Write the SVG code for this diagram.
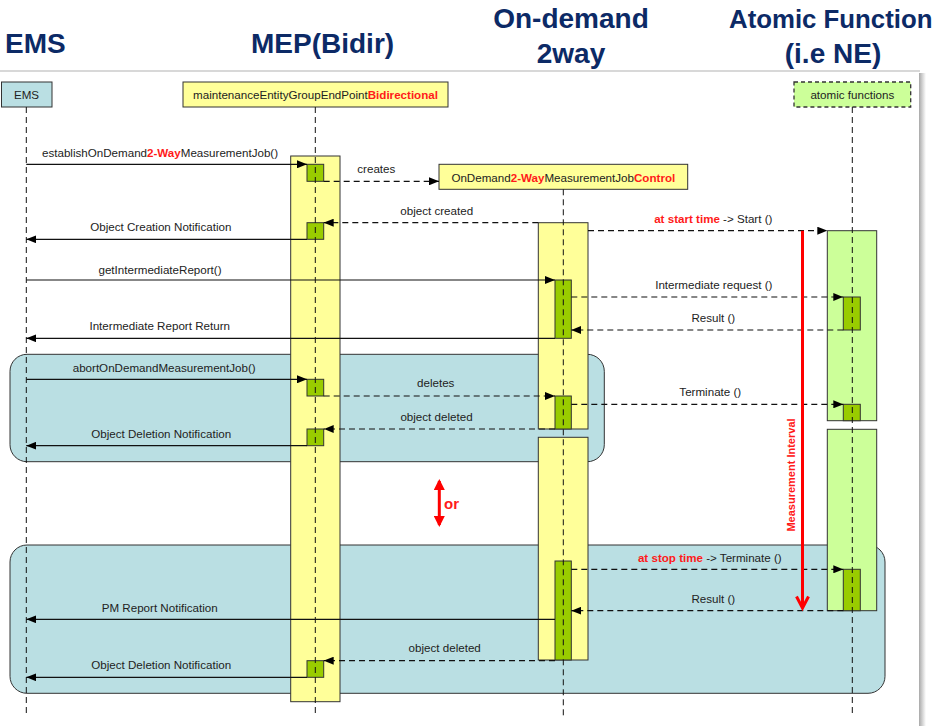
<svg xmlns="http://www.w3.org/2000/svg" width="937" height="726" viewBox="0 0 937 726">
  <style>
    .title { font-family: "Liberation Sans", Arial, sans-serif; font-weight: bold; font-size: 28px; fill: #0c2a66; }
    .lbl { font-family: "Liberation Sans", Arial, sans-serif; font-size: 11.6px; fill: #222; }
    .mid { text-anchor: middle; }
    .red { fill: #ff1a1a; font-weight: bold; }
    .head { stroke: #333; stroke-width: 1; }
    .life { stroke: #111; stroke-width: 1; stroke-dasharray: 6 4; fill: none; }
    .yel { fill: #ffff99; stroke: #333; stroke-width: 1; }
    .grn { fill: #99cc00; stroke: #333; stroke-width: 1; }
    .lgrn { fill: #ccff99; stroke: #333; stroke-width: 1; }
    .frag { fill: #badfe3; stroke: #333; stroke-width: 1; }
    .msg { stroke: #111; stroke-width: 1.2; fill: none; marker-end: url(#arr); }
    .ret { stroke: #111; stroke-width: 1.2; fill: none; stroke-dasharray: 6 4; marker-end: url(#arr); }
  </style>
  <defs>
    <marker id="arr" markerUnits="userSpaceOnUse" markerWidth="10" markerHeight="8" refX="10" refY="4" orient="auto">
      <path d="M0,0 L10,4 L0,8 z" fill="#000"/>
    </marker>
    <marker id="redhead" markerUnits="userSpaceOnUse" markerWidth="11" markerHeight="11" refX="9" refY="5.5" orient="auto-start-reverse">
      <path d="M0,0 L11,5.5 L0,11 z" fill="#ff0000"/>
    </marker>
    <linearGradient id="shade" x1="0" y1="0" x2="1" y2="0">
      <stop offset="0" stop-color="#a8a8a8"/>
      <stop offset="0.5" stop-color="#d4d4d4"/>
      <stop offset="1" stop-color="#ffffff"/>
    </linearGradient>
  </defs>

  <rect x="0" y="0" width="937" height="726" fill="#ffffff"/>

  <!-- column titles -->
  <g id="titles">
    <text class="title" x="5" y="53">EMS</text>
    <text class="title" x="251" y="53">MEP(Bidir)</text>
    <text class="title mid" x="571" y="28">On-demand</text>
    <text class="title mid" x="571" y="63">2way</text>
    <text class="title" x="729" y="28" style="font-size:25.8px">Atomic Function</text>
    <text class="title mid" x="833" y="63">(i.e NE)</text>
  </g>

  <!-- page frame with drop shadow -->
  <g id="frame">
    <line x1="0" y1="71" x2="920" y2="71" stroke="#d8d8d8" stroke-width="2"/>
    <rect x="919" y="73" width="7" height="653" fill="url(#shade)"/>
  </g>

  <!-- combined fragments -->
  <g id="fragments">
    <rect class="frag" x="10" y="354.3" width="594.3" height="107.4" rx="17" ry="17"/>
    <rect class="frag" x="10" y="545" width="875" height="148.3" rx="17" ry="17"/>
  </g>

  <g id="ems">
    <rect class="head" x="1.5" y="82" width="50.5" height="25" fill="#badfe3"/>
    <text class="lbl mid" x="26.5" y="99">EMS</text>
    <line class="life" x1="26.3" y1="107" x2="26.3" y2="717"/>
  </g>

  <g id="mep">
    <rect class="head" x="183" y="82" width="265" height="25" fill="#ffff99"/>
    <text class="lbl mid" x="315.5" y="99">maintenanceEntityGroupEndPoint<tspan class="red">Bidirectional</tspan></text>
    <rect class="yel" x="290.7" y="156" width="49.3" height="545.7"/>
    <rect class="grn" x="307" y="164.3" width="16.7" height="17"/>
    <rect class="grn" x="307" y="222.7" width="16.7" height="16.6"/>
    <rect class="grn" x="307" y="379.3" width="16.7" height="16.7"/>
    <rect class="grn" x="307" y="429" width="16.7" height="16.7"/>
    <rect class="grn" x="307" y="660.7" width="16.7" height="16.6"/>
    <line class="life" x1="315.3" y1="107" x2="315.3" y2="717"/>
  </g>

  <g id="job-control">
    <rect class="head" x="439" y="164.3" width="248.7" height="25" fill="#ffff99"/>
    <text class="lbl mid" x="563.3" y="181.5">OnDemand<tspan class="red">2-Way</tspan>MeasurementJob<tspan class="red">Control</tspan></text>
    <rect class="yel" x="538.3" y="222.7" width="49.7" height="206.3"/>
    <rect class="yel" x="538.3" y="437.3" width="49.7" height="222.7"/>
    <rect class="grn" x="555" y="280" width="16.3" height="58.3"/>
    <rect class="grn" x="555" y="396" width="16.3" height="33"/>
    <rect class="grn" x="555" y="561" width="16.3" height="99"/>
    <line class="life" x1="563.3" y1="189.3" x2="563.3" y2="717"/>
  </g>

  <g id="atomic">
    <rect x="794" y="82" width="116.7" height="25" fill="#ccff99" stroke="#333" stroke-width="1.3" stroke-dasharray="4 3"/>
    <text class="lbl mid" x="852.3" y="99">atomic functions</text>
    <rect class="lgrn" x="827.3" y="230.7" width="49.4" height="190"/>
    <rect class="lgrn" x="827.3" y="429.3" width="49.4" height="181.4"/>
    <rect class="grn" x="843.3" y="297" width="17" height="33"/>
    <rect class="grn" x="843.3" y="404.3" width="17" height="16.4"/>
    <rect class="grn" x="843.3" y="569.3" width="17" height="41.4"/>
    <line class="life" x1="852.3" y1="107" x2="852.3" y2="717"/>
  </g>

  <!-- messages -->
  <g id="connectors">
    <line class="msg" x1="26.3" y1="164.3" x2="307" y2="164.3"/>
    <line class="ret" x1="323.7" y1="181.3" x2="439" y2="181.3"/>
    <line class="ret" x1="538.3" y1="222.7" x2="323.7" y2="222.7"/>
    <line class="msg" x1="307" y1="239.3" x2="26.3" y2="239.3"/>
    <line class="ret" x1="588" y1="230.7" x2="827.3" y2="230.7"/>
    <line class="msg" x1="26.3" y1="280" x2="555" y2="280"/>
    <line class="ret" x1="571.3" y1="297" x2="843.3" y2="297"/>
    <line class="ret" x1="843.3" y1="330" x2="571.3" y2="330"/>
    <line class="msg" x1="555" y1="338.3" x2="26.3" y2="338.3"/>
    <line class="msg" x1="26.3" y1="379.3" x2="307" y2="379.3"/>
    <line class="ret" x1="323.7" y1="396" x2="555" y2="396"/>
    <line class="ret" x1="571.3" y1="404.3" x2="843.3" y2="404.3"/>
    <line class="ret" x1="555" y1="429" x2="323.7" y2="429"/>
    <line class="msg" x1="307" y1="445.7" x2="26.3" y2="445.7"/>
    <line class="ret" x1="571.3" y1="569.3" x2="843.3" y2="569.3"/>
    <line class="ret" x1="843.3" y1="610.7" x2="571.3" y2="610.7"/>
    <line class="msg" x1="555" y1="619.3" x2="26.3" y2="619.3"/>
    <line class="ret" x1="555" y1="660.7" x2="323.7" y2="660.7"/>
    <line class="msg" x1="307" y1="677.3" x2="26.3" y2="677.3"/>

    <!-- measurement interval -->
    <line x1="802.5" y1="230.7" x2="802.5" y2="607" stroke="#ff0000" stroke-width="3"/>
    <polyline points="796.5,596.5 802.5,608 808.5,596.5" fill="none" stroke="#ff0000" stroke-width="3"/>
    <!-- alternative marker -->
    <line x1="439.3" y1="481" x2="439.3" y2="525" stroke="#ff0000" stroke-width="3" marker-start="url(#redhead)" marker-end="url(#redhead)"/>
  </g>

  <g id="labels">
    <text class="lbl" x="42" y="157">establishOnDemand<tspan class="red">2-Way</tspan>MeasurementJob()</text>
    <text class="lbl mid" x="376.3" y="173">creates</text>
    <text class="lbl mid" x="436.7" y="214.5">object created</text>
    <text class="lbl mid" x="160.8" y="231">Object Creation Notification</text>
    <text class="lbl mid" x="713.3" y="222.5"><tspan class="red">at start time</tspan> -&gt; Start ()</text>
    <text class="lbl mid" x="160" y="274">getIntermediateReport()</text>
    <text class="lbl mid" x="713.8" y="289">Intermediate request ()</text>
    <text class="lbl mid" x="713.3" y="321.7">Result ()</text>
    <text class="lbl mid" x="159.7" y="330">Intermediate Report Return</text>
    <text class="lbl mid" x="164.2" y="372.3">abortOnDemandMeasurementJob()</text>
    <text class="lbl mid" x="435.7" y="387.3">deletes</text>
    <text class="lbl mid" x="710.3" y="395.7">Terminate ()</text>
    <text class="lbl mid" x="436.5" y="420.7">object deleted</text>
    <text class="lbl mid" x="161.2" y="438.3">Object Deletion Notification</text>
    <text class="lbl red" x="444" y="509" style="font-size:15px">or</text>
    <text class="lbl red mid" transform="translate(795,475) rotate(-90)" x="0" y="0" style="font-size:11px">Measurement Interval</text>
    <text class="lbl mid" x="709.8" y="561.7"><tspan class="red">at stop time</tspan> -&gt; Terminate ()</text>
    <text class="lbl mid" x="713.3" y="602.7">Result ()</text>
    <text class="lbl mid" x="159.7" y="612.3">PM Report Notification</text>
    <text class="lbl mid" x="444.7" y="652.3">object deleted</text>
    <text class="lbl mid" x="161.2" y="668.7">Object Deletion Notification</text>
  </g>
</svg>
